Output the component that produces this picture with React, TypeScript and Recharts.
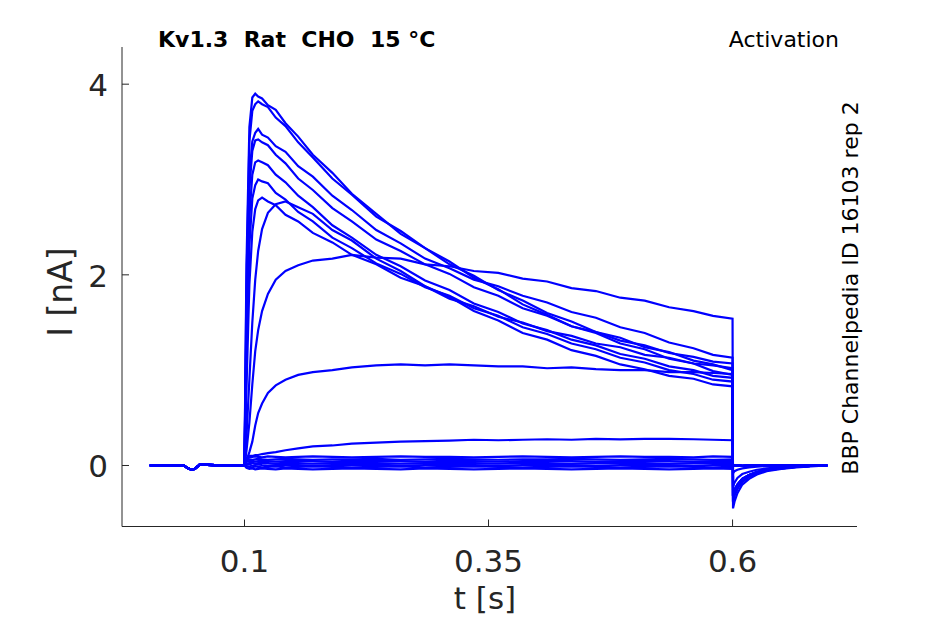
import { LineChart, Line, XAxis, YAxis } from 'recharts'

// shared holding segment before the pulse (s, nA)
const preTimes = [0.003, 0.02, 0.038, 0.042, 0.045, 0.049, 0.052, 0.054, 0.07, 0.085, 0.0995]
const preValues = [0, 0.004, -0.002, -0.03, -0.04, -0.035, -0.01, 0.01, 0.003, 0, 0.002]

const pulseTimes = [
  0.1, 0.102, 0.105, 0.108, 0.111, 0.114, 0.118, 0.124, 0.132, 0.142, 0.155, 0.17, 0.19, 0.21, 0.235,
  0.26, 0.285, 0.31, 0.335, 0.36, 0.385, 0.41, 0.435, 0.46, 0.485, 0.51, 0.535, 0.56, 0.58, 0.6,
]
const tailTimes = [0.6005, 0.602, 0.605, 0.61, 0.617, 0.625, 0.635, 0.65, 0.665, 0.68, 0.697]

const step1 = [0.05, 2.1, 3.55, 3.86, 3.9, 3.87, 3.85, 3.78, 3.73, 3.59, 3.45, 3.26, 3.07, 2.85, 2.64, 2.43, 2.28, 2.11, 1.99, 1.84, 1.73, 1.6, 1.51, 1.4, 1.34, 1.24, 1.19, 1.1, 1.06, 1.0]
const step2 = [0.04, 1.9, 3.4, 3.72, 3.79, 3.82, 3.79, 3.76, 3.65, 3.56, 3.39, 3.23, 3.01, 2.84, 2.61, 2.46, 2.28, 2.14, 1.97, 1.85, 1.69, 1.58, 1.46, 1.39, 1.28, 1.22, 1.12, 1.07, 0.99, 0.95]
const step3 = [0.04, 1.6, 3.05, 3.4, 3.49, 3.53, 3.47, 3.44, 3.35, 3.29, 3.14, 3.03, 2.83, 2.68, 2.47, 2.33, 2.17, 2.07, 1.95, 1.88, 1.78, 1.71, 1.61, 1.55, 1.45, 1.39, 1.29, 1.23, 1.16, 1.13]
const step4 = [0.03, 1.5, 2.9, 3.3, 3.41, 3.42, 3.39, 3.36, 3.26, 3.17, 3.01, 2.89, 2.7, 2.56, 2.37, 2.25, 2.11, 2.01, 1.87, 1.78, 1.65, 1.57, 1.46, 1.4, 1.31, 1.26, 1.18, 1.14, 1.09, 1.07]
const step5 = [0.03, 1.3, 2.6, 3.05, 3.18, 3.2, 3.18, 3.15, 3.05, 2.97, 2.83, 2.71, 2.52, 2.39, 2.21, 2.09, 1.94, 1.84, 1.7, 1.61, 1.49, 1.42, 1.32, 1.26, 1.17, 1.12, 1.04, 1.0, 0.94, 0.92]
const step6 = [0.02, 1.1, 2.3, 2.8, 2.94, 3.0, 2.98, 2.96, 2.86, 2.79, 2.66, 2.56, 2.39, 2.28, 2.12, 2.01, 1.87, 1.78, 1.65, 1.57, 1.45, 1.38, 1.28, 1.22, 1.13, 1.08, 1.0, 0.96, 0.9, 0.88]
const step7 = [0.02, 0.8, 1.9, 2.45, 2.69, 2.78, 2.81, 2.77, 2.73, 2.63, 2.56, 2.44, 2.34, 2.21, 2.11, 1.97, 1.88, 1.75, 1.67, 1.56, 1.5, 1.41, 1.36, 1.28, 1.24, 1.16, 1.13, 1.07, 1.05, 1.02]
const step8 = [0.01, 0.3, 0.9, 1.5, 1.95, 2.25, 2.48, 2.65, 2.74, 2.77, 2.71, 2.64, 2.47, 2.36, 2.17, 2.04, 1.88, 1.77, 1.62, 1.52, 1.39, 1.32, 1.21, 1.15, 1.06, 1.01, 0.94, 0.91, 0.85, 0.83]
const step9 = [0, 0.15, 0.45, 0.85, 1.2, 1.42, 1.62, 1.8, 1.95, 2.04, 2.1, 2.15, 2.17, 2.21, 2.18, 2.17, 2.11, 2.09, 2.04, 2.02, 1.96, 1.93, 1.86, 1.83, 1.76, 1.73, 1.66, 1.62, 1.57, 1.54]
const step10 = [0, 0.05, 0.14, 0.25, 0.42, 0.55, 0.65, 0.76, 0.84, 0.9, 0.95, 0.98, 1.0, 1.03, 1.05, 1.06, 1.05, 1.06, 1.05, 1.04, 1.04, 1.02, 1.03, 1.01, 1.0, 1.0, 0.98, 0.98, 0.97, 0.96]
const step11 = [0, 0.08, 0.1, 0.1, 0.11, 0.11, 0.12, 0.13, 0.14, 0.16, 0.18, 0.2, 0.21, 0.23, 0.24, 0.25, 0.255, 0.26, 0.27, 0.265, 0.27, 0.275, 0.27, 0.28, 0.275, 0.28, 0.28, 0.275, 0.27, 0.265]
const step12 = [0.01, 0.07, 0.085, 0.09, 0.095, 0.09, 0.085, 0.095, 0.09, 0.085, 0.09, 0.095, 0.09, 0.085, 0.09, 0.095, 0.09, 0.09, 0.085, 0.09, 0.095, 0.09, 0.085, 0.09, 0.095, 0.09, 0.09, 0.085, 0.095, 0.09]
const step13 = [0.01, 0.05, 0.065, 0.06, 0.065, 0.07, 0.065, 0.06, 0.065, 0.07, 0.065, 0.06, 0.065, 0.065, 0.07, 0.06, 0.065, 0.07, 0.065, 0.06, 0.065, 0.065, 0.07, 0.065, 0.06, 0.065, 0.07, 0.065, 0.06, 0.065]
const step14 = [0.005, 0.04, 0.045, 0.05, 0.04, 0.045, 0.05, 0.045, 0.04, 0.045, 0.05, 0.045, 0.04, 0.05, 0.045, 0.045, 0.04, 0.05, 0.045, 0.04, 0.045, 0.05, 0.045, 0.04, 0.045, 0.05, 0.045, 0.04, 0.045, 0.045]
const step15 = [0.005, 0.02, 0.025, 0.03, 0.02, 0.025, 0.03, 0.025, 0.02, 0.03, 0.025, 0.02, 0.025, 0.03, 0.025, 0.02, 0.025, 0.03, 0.025, 0.02, 0.03, 0.025, 0.02, 0.025, 0.03, 0.025, 0.02, 0.025, 0.03, 0.025]
const step16 = [0, 0.005, 0.01, 0.0, 0.005, 0.01, 0.005, 0.0, 0.005, 0.01, 0.005, 0.0, 0.005, 0.005, 0.01, 0.0, 0.005, 0.01, 0.005, 0.0, 0.005, 0.01, 0.005, 0.0, 0.005, 0.01, 0.005, 0.0, 0.005, 0.005]
const step17 = [0, -0.01, -0.015, -0.02, -0.01, -0.015, -0.02, -0.015, -0.01, -0.02, -0.015, -0.01, -0.015, -0.02, -0.015, -0.01, -0.02, -0.015, -0.01, -0.015, -0.02, -0.015, -0.01, -0.015, -0.02, -0.015, -0.01, -0.015, -0.02, -0.015]
const step18 = [0, -0.025, -0.035, -0.03, -0.04, -0.035, -0.03, -0.035, -0.04, -0.03, -0.035, -0.04, -0.035, -0.03, -0.035, -0.04, -0.03, -0.035, -0.04, -0.035, -0.03, -0.035, -0.04, -0.035, -0.03, -0.035, -0.04, -0.035, -0.03, -0.035]

// tail currents after repolarisation
const tailA = [-0.45, -0.38, -0.29, -0.2, -0.14, -0.095, -0.06, -0.035, -0.02, -0.01, 0.0]
const tailB = [-0.38, -0.31, -0.24, -0.17, -0.115, -0.08, -0.05, -0.03, -0.015, -0.005, 0.0]
const tailC = [-0.32, -0.26, -0.2, -0.14, -0.1, -0.07, -0.045, -0.025, -0.012, -0.005, 0.0]
const tailD = [-0.22, -0.18, -0.13, -0.09, -0.065, -0.045, -0.03, -0.018, -0.01, -0.004, 0.0]
const tailE = [-0.08, -0.06, -0.045, -0.03, -0.02, -0.012, -0.006, -0.002, 0, 0, 0]
const tailZ = [0.005, 0.0, 0.004, -0.003, 0.002, 0.0, 0.004, -0.002, 0.003, 0.0, 0.002]

const sweeps: [number[], number[]][] = [
  [step1, tailB], [step2, tailC], [step3, tailB], [step4, tailB], [step5, tailC], [step6, tailC],
  [step7, tailC], [step8, tailC], [step9, tailA], [step10, tailD], [step11, tailE],
  [step12, tailZ], [step13, tailZ], [step14, tailZ], [step15, tailZ], [step16, tailZ], [step17, tailZ], [step18, tailZ],
]

const xTicks = [0.1, 0.35, 0.6]
const yTicks = [0, 2, 4]

const buildSweep = (pulse: number[], tail: number[]) => [
  ...preTimes.map((t, i) => ({ t, i: preValues[i] })),
  ...pulseTimes.map((t, i) => ({ t, i: pulse[i] })),
  ...tailTimes.map((t, i) => ({ t, i: tail[i] })),
]

const AXIS = '#262626'
const FONT = 'DejaVu Sans'
const LEFT = 122
const BOTTOM = 526.5

const XTick = (props: any) => {
  const { x, payload } = props
  return (
    <g>
      <line x1={x} x2={x} y1={BOTTOM} y2={BOTTOM - 7} stroke={AXIS} strokeWidth={1} />
      <text x={x} y={572} textAnchor="middle" fontSize={31} fontFamily={FONT} fill={AXIS}>
        {payload.value}
      </text>
    </g>
  )
}

const YTick = (props: any) => {
  const { y, payload } = props
  return (
    <g>
      <line x1={LEFT} x2={LEFT + 7} y1={y} y2={y} stroke={AXIS} strokeWidth={1} />
      <text x={108} y={y + 12} textAnchor="end" fontSize={31} fontFamily={FONT} fill={AXIS}>
        {payload.value}
      </text>
    </g>
  )
}

export default function App() {
  return (
    <div style={{ position: 'absolute', left: 0, top: 0, width: 945, height: 624, background: '#fff' }}>
      <LineChart
        width={945}
        height={624}
        margin={{ top: 47, right: 88, bottom: 96.5, left: 121 }}
      >
        <XAxis
          type="number"
          dataKey="t"
          domain={[-0.0255, 0.7275]}
          ticks={xTicks}
          interval={0}
          height={1}
          tickSize={0}
          tickLine={false}
          axisLine={{ stroke: AXIS, strokeWidth: 1 }}
          tick={<XTick />}
          allowDataOverflow
        />
        <YAxis
          type="number"
          dataKey="i"
          domain={[-0.64, 4.39]}
          ticks={yTicks}
          interval={0}
          width={1}
          tickSize={0}
          tickLine={false}
          axisLine={{ stroke: AXIS, strokeWidth: 1 }}
          tick={<YTick />}
          allowDataOverflow
        />
        {sweeps.map(([pulse, tail], k) => (
          <Line
            key={k}
            data={buildSweep(pulse, tail)}
            dataKey="i"
            type="linear"
            stroke="#0000ff"
            strokeWidth={2.2}
            dot={false}
            isAnimationActive={false}
          />
        ))}
      </LineChart>
      <svg width={945} height={624} style={{ position: 'absolute', left: 0, top: 0, pointerEvents: 'none' }}>
        <text x={158} y={47} fontSize={22} fontWeight="bold" fontFamily={FONT} fill="#000" style={{ whiteSpace: 'pre' }}>
          {'Kv1.3  Rat  CHO  15 °C'}
        </text>
        <text x={839} y={47} textAnchor="end" fontSize={22} fontFamily={FONT} fill="#000">
          Activation
        </text>
        <text transform="translate(858, 288) rotate(-90)" textAnchor="middle" fontSize={22} fontFamily={FONT} fill="#000">
          BBP Channelpedia ID 16103 rep 2
        </text>
        <text transform="translate(72, 292) rotate(-90)" textAnchor="middle" fontSize={33} fontFamily={FONT} fill={AXIS}>
          I [nA]
        </text>
        <text x={485} y={609} textAnchor="middle" fontSize={31} fontFamily={FONT} fill={AXIS}>
          t [s]
        </text>
      </svg>
    </div>
  )
}
